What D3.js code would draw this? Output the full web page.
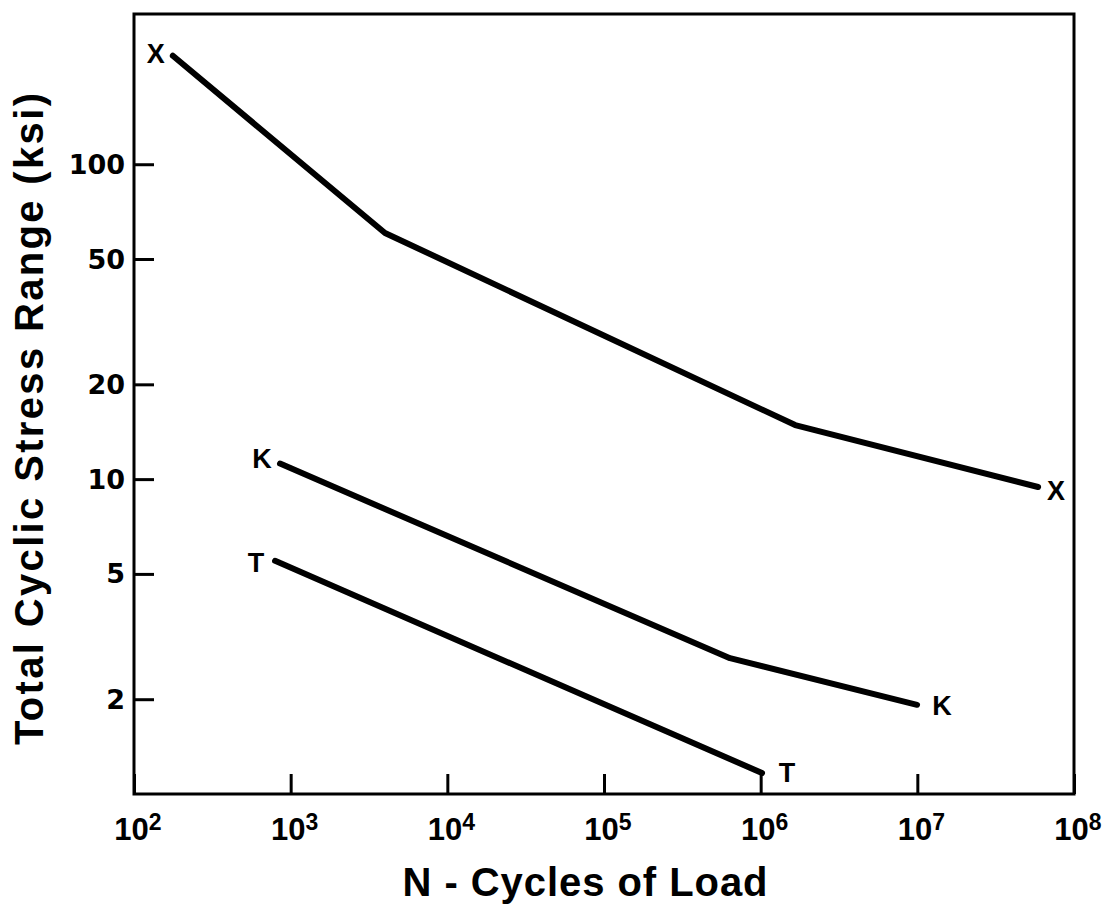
<!DOCTYPE html>
<html>
<head>
<meta charset="utf-8">
<script src="https://cdn.jsdelivr.net/npm/d3@7"></script>
<style>
  html, body { margin: 0; padding: 0; background: #fff; }
  svg { display: block; }
  .tick-label { font-family: "DejaVu Sans", sans-serif; font-size: 27px; font-weight: bold; fill: #000; }
  .xtick-label { font-family: "Liberation Sans", Arial, sans-serif; font-size: 31px; font-weight: bold; fill: #000; }
  .axis-title { font-family: "Liberation Sans", Arial, sans-serif; font-size: 40px; font-weight: bold; fill: #000; }
  .curve-label { font-family: "Liberation Sans", Arial, sans-serif; font-size: 27px; font-weight: bold; fill: #000; }
</style>
</head>
<body>
<div id="chart"></div>
<script>
// values: cycles N vs total cyclic stress range (ksi)
const curveX_cycles = [177, 4000, 1.66e6, 5.9e7];
const curveX_stress = [221, 60.5, 14.85, 9.44];
const curveK_cycles = [855, 6.37e5, 9.96e6];
const curveK_stress = [11.2, 2.7, 1.92];
const curveT_cycles = [795, 1.02e6];
const curveT_stress = [5.5, 1.166];
const curveNames = ["X", "K", "T"];

const yTickValues = [2, 5, 10, 20, 50, 100];
const xTickExponents = [2, 3, 4, 5, 6, 7, 8];

const width = 1109;
const height = 906;
const plot = { left: 134, right: 1074, top: 14, bottom: 794 };

const svg = d3.select("#chart").append("svg").attr("width", width).attr("height", height);

const x = d3.scaleLog().domain([1e2, 1e8]).range([plot.left, plot.right]);
const y = d3.scaleLog().domain([1, 300]).range([plot.bottom, plot.top]);

// inward ticks
svg.append("g")
  .attr("transform", `translate(0,${plot.bottom})`)
  .call(d3.axisTop(x).tickValues(xTickExponents.map((e) => Math.pow(10, e))).tickSize(20).tickFormat(() => ""))
  .call((g) => g.select(".domain").remove())
  .call((g) => g.selectAll("line").attr("stroke", "#000").attr("stroke-width", 3));

svg.append("g")
  .attr("transform", `translate(${plot.left},0)`)
  .call(d3.axisRight(y).tickValues(yTickValues).tickSize(20).tickFormat(() => ""))
  .call((g) => g.select(".domain").remove())
  .call((g) => g.selectAll("line").attr("stroke", "#000").attr("stroke-width", 3));

// frame
svg.append("rect")
  .attr("x", plot.left).attr("y", plot.top)
  .attr("width", plot.right - plot.left).attr("height", plot.bottom - plot.top)
  .attr("fill", "none").attr("stroke", "#000").attr("stroke-width", 3);

// y tick labels
svg.append("g").selectAll("text").data(yTickValues).enter().append("text")
  .attr("class", "tick-label")
  .attr("x", plot.left - 9)
  .attr("y", (d) => y(d))
  .attr("text-anchor", "end")
  .attr("dominant-baseline", "central")
  .text((d) => d);

// x tick labels as 10 with superscript exponent
const xl = svg.append("g").selectAll("text").data(xTickExponents).enter().append("text")
  .attr("class", "xtick-label")
  .attr("x", (e) => x(Math.pow(10, e)) + 4)
  .attr("y", plot.bottom + 46)
  .attr("text-anchor", "middle");
xl.append("tspan").text("10");
xl.append("tspan").attr("dy", -10).attr("font-size", 23).text((e) => e);

// axis titles
svg.append("text")
  .attr("class", "axis-title")
  .attr("x", 585).attr("y", 896)
  .attr("text-anchor", "middle")
  .attr("textLength", 365).attr("lengthAdjust", "spacing")
  .text("N - Cycles of Load");

svg.append("text")
  .attr("class", "axis-title")
  .attr("transform", "translate(43,419) rotate(-90)")
  .attr("text-anchor", "middle")
  .attr("textLength", 652).attr("lengthAdjust", "spacing")
  .text("Total Cyclic Stress Range (ksi)");

// curves
const curves = [
  { name: curveNames[0], pts: curveX_cycles.map((n, i) => [n, curveX_stress[i]]) },
  { name: curveNames[1], pts: curveK_cycles.map((n, i) => [n, curveK_stress[i]]) },
  { name: curveNames[2], pts: curveT_cycles.map((n, i) => [n, curveT_stress[i]]) },
];

const line = d3.line().x((d) => x(d[0])).y((d) => y(d[1]));

svg.append("g").selectAll("path").data(curves).enter().append("path")
  .attr("d", (d) => line(d.pts))
  .attr("fill", "none")
  .attr("stroke", "#000")
  .attr("stroke-width", 6)
  .attr("stroke-linecap", "round")
  .attr("stroke-linejoin", "round");

// letter at each end of a curve
const labelOffsets = {
  X: [[-17, -2], [18, 4]],
  K: [[-18, -5], [25, 1]],
  T: [[-19, 2], [25, 0]],
};
const ends = [];
curves.forEach((c) => {
  const first = c.pts[0];
  const last = c.pts[c.pts.length - 1];
  ends.push({ name: c.name, p: first, off: labelOffsets[c.name][0] });
  ends.push({ name: c.name, p: last, off: labelOffsets[c.name][1] });
});

svg.append("g").selectAll("text").data(ends).enter().append("text")
  .attr("class", "curve-label")
  .attr("x", (d) => x(d.p[0]) + d.off[0])
  .attr("y", (d) => y(d.p[1]) + d.off[1])
  .attr("text-anchor", "middle")
  .attr("dominant-baseline", "central")
  .text((d) => d.name);
</script>
</body>
</html>
